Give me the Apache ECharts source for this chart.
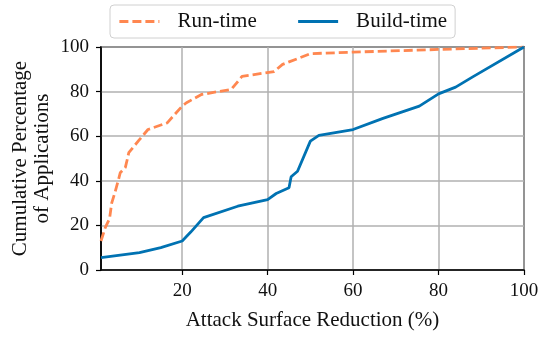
<!DOCTYPE html>
<html>
<head>
<meta charset="utf-8">
<script src="https://cdn.jsdelivr.net/npm/echarts@6/dist/echarts.min.js"></script>
<style>
  html, body { margin: 0; padding: 0; background: #fff; }
  #chart { width: 538px; height: 337px; }
</style>
</head>
<body>
<div id="chart"></div>
<script>
// values: [reduction %, cumulative %]
const runTime = [
  [1, 13], [2, 19], [3, 23], [3.5, 30], [4.3, 35], [5.1, 40.6], [5.5, 43.6],
  [6.7, 46], [7.2, 50], [7.5, 52.6], [9.8, 58], [12, 63], [16.5, 66],
  [20, 73.5], [21, 75], [24.5, 78.7], [31.5, 81], [34, 86.8], [41.5, 89],
  [43.5, 92.2], [50, 97], [60, 97.7], [80, 98.9], [100, 100]
];
const buildTime = [
  [1, 5.5], [10, 7.8], [15, 10], [20, 13], [22, 17], [25, 23.5], [33, 28.6],
  [40, 31.6], [42, 34.3], [45, 36.9], [45.5, 41.8], [47, 44.3], [50, 57.8],
  [52, 60.4], [60, 63], [67, 68], [75.5, 73.5], [80, 79], [84, 82],
  [88, 86.6], [100, 100]
];
const xTicks = [20, 40, 60, 80, 100];

const font = "'Liberation Serif', serif";
const chart = echarts.init(document.getElementById('chart'));

let option = {
  animation: false,
  textStyle: { fontFamily: font },
  legend: {
    left: 110,
    top: 5,
    padding: [6, 8, 6, 8],
    itemWidth: 40,
    itemHeight: 14,
    itemGap: 40,
    borderColor: '#d0d0d0',
    borderWidth: 1,
    borderRadius: 4,
    itemStyle: { opacity: 0 },
    lineStyle: { width: 2.8 },
    textStyle: { fontFamily: font, fontSize: 21, color: '#111', padding: [0, 0, 0, 13] },
    data: ['Run-time', 'Build-time']
  },
  grid: {
    left: 101, right: 14, top: 47, bottom: 67,
    outerBoundsMode: 'none',
    containLabel: false,
    show: true,
    borderColor: '#000',
    borderWidth: 1.5
  },
  xAxis: {
    type: 'value',
    min: 1,
    max: 100,
    name: 'Attack Surface Reduction (%)',
    nameLocation: 'middle',
    nameGap: 40,
    nameMoveOverlap: false,
    nameTextStyle: { fontFamily: font, fontSize: 21, color: '#111' },
    axisLine: { lineStyle: { color: '#000', width: 1.5 } },
    axisTick: { show: true, length: 5, inside: false, customValues: xTicks, lineStyle: { color: '#000', width: 1.2 } },
    axisLabel: { customValues: xTicks, margin: 12, fontFamily: font, fontSize: 19, color: '#111' },
    splitLine: { show: true, lineStyle: { color: '#b0b0b0', width: 1.5 } }
  },
  yAxis: {
    type: 'value',
    min: 0,
    max: 100,
    interval: 20,
    name: 'Cumulative Percentage\nof Applications',
    nameLocation: 'middle',
    nameGap: 48,
    nameMoveOverlap: false,
    nameTextStyle: { fontFamily: font, fontSize: 21, color: '#111', lineHeight: 22 },
    axisLine: { show: true, lineStyle: { color: '#000', width: 1.5 } },
    axisTick: { show: true, length: 5, lineStyle: { color: '#000', width: 1.2 } },
    axisLabel: { margin: 12, fontFamily: font, fontSize: 19, color: '#111' },
    splitLine: { show: true, lineStyle: { color: '#b0b0b0', width: 1.5 } }
  },
  series: [
    {
      name: 'Run-time',
      type: 'line',
      data: runTime,
      showSymbol: false,
      symbol: 'none',
      lineStyle: { color: '#ff8750', width: 2.8, type: [9, 4] },
      itemStyle: { color: '#ff8750' },
      z: 3
    },
    {
      name: 'Build-time',
      type: 'line',
      data: buildTime,
      showSymbol: false,
      symbol: 'none',
      lineStyle: { color: '#0072b2', width: 2.8 },
      itemStyle: { color: '#0072b2' },
      z: 3
    }
  ]
};

chart.setOption(option);
</script>
</body>
</html>
